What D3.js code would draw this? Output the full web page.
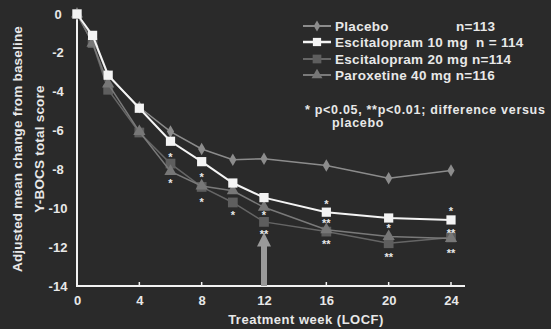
<!DOCTYPE html>
<html>
<head>
<meta charset="utf-8">
<script src="https://cdn.jsdelivr.net/npm/d3@7"></script>
<style>
  body { margin: 0; background: #2a2a2a; }
  text { font-family: "Liberation Sans", Arial, sans-serif; font-weight: bold; fill: #e8e8e8; }
</style>
</head>
<body>
<script>
// data
var weeks = [0, 1, 2, 4, 6, 8, 10, 12, 16, 20, 24];
var placebo = [0, -1.2, -3.2, -4.8, -6.05, -6.95, -7.5, -7.45, -7.8, -8.45, -8.05];
var esc10 = [0, -1.1, -3.15, -4.85, -6.55, -7.6, -8.7, -9.45, -10.2, -10.5, -10.6];
var esc20 = [0, -1.5, -3.9, -6.1, -7.7, -8.9, -9.7, -10.7, -11.2, -11.8, -11.5];
var parox = [0, -1.5, -3.6, -6.05, -8.1, -8.85, -9.1, -9.95, -11.1, -11.45, -11.55];
var xTicks = [0, 4, 8, 12, 16, 20, 24];
var yTicks = [0, -2, -4, -6, -8, -10, -12, -14];
var seriesNames = ["Placebo", "Escitalopram 10 mg", "Escitalopram 20 mg", "Paroxetine 40 mg"];
var seriesN = ["n=113", "n = 114", "n=114", "n=116"];
// significance marks: week, level (score units), label
var sigWeeks = [6, 6, 8, 8, 10, 12, 12, 16, 16, 16, 20, 20, 24, 24, 24];
var sigLevels = [-7.27, -8.6, -8.3, -9.55, -10.25, -10.25, -11.2, -9.7, -10.65, -11.75, -10.9, -12.4, -10.05, -11.15, -12.2];
var sigLabels = ["*", "*", "*", "*", "*", "*", "**", "*", "**", "**", "*", "**", "*", "**", "**"];
var arrowWeek = 12, arrowTip = -11.25;

var W = 551, H = 329;
var svg = d3.select("body").append("svg").attr("width", W).attr("height", H);
svg.append("rect").attr("width", W).attr("height", H).attr("fill", "#2a2a2a");

var x = d3.scaleLinear().domain([0, 24]).range([77, 451]);
var y = d3.scaleLinear().domain([0, -14]).range([14, 286]);

// axes
var xAxis = d3.axisBottom(x).tickValues(xTicks).tickSize(0).tickPadding(10);
var gx = svg.append("g").attr("transform", "translate(0,286)").call(xAxis);
gx.select(".domain").remove();
gx.selectAll("text").attr("font-size", 13).attr("fill", "#e8e8e8")
  .attr("font-family", "Liberation Sans, Arial, sans-serif").attr("font-weight", "bold");
svg.append("line").attr("x1", 76).attr("x2", 465).attr("y1", 286).attr("y2", 286)
  .attr("stroke", "#f2f2f2").attr("stroke-width", 2);
svg.selectAll(".xt").data(xTicks.slice(1)).enter().append("line")
  .attr("x1", function(d) { return x(d); }).attr("x2", function(d) { return x(d); })
  .attr("y1", 286).attr("y2", 282).attr("stroke", "#f2f2f2").attr("stroke-width", 1.5);

svg.append("line").attr("x1", 77).attr("x2", 77).attr("y1", 14).attr("y2", 287)
  .attr("stroke", "#f2f2f2").attr("stroke-width", 2);
svg.selectAll(".yl").data(yTicks).enter().append("text")
  .attr("x", 58).attr("y", function(d) { return y(d) + 4.5; })
  .attr("text-anchor", "middle").attr("font-size", 13)
  .text(function(d) { return d; });

// axis titles
svg.append("text").attr("x", 306).attr("y", 324).attr("text-anchor", "middle")
  .attr("font-size", 13).attr("letter-spacing", 0.5).text("Treatment week (LOCF)");
svg.append("text").attr("transform", "translate(22,149) rotate(-90)")
  .attr("text-anchor", "middle").attr("font-size", 13.5).attr("letter-spacing", 0.2)
  .text("Adjusted mean change from baseline");
svg.append("text").attr("transform", "translate(44,149) rotate(-90)")
  .attr("text-anchor", "middle").attr("font-size", 13.5).attr("letter-spacing", 0.2)
  .text("Y-BOCS total score");

// arrow at week 12
var ax = x(arrowWeek), at = y(arrowTip);
svg.append("rect").attr("x", ax - 3).attr("y", at + 12).attr("width", 6).attr("height", 286 - at - 12)
  .attr("fill", "#9a9a9a");
svg.append("path").attr("d", "M" + (ax - 7) + "," + (at + 14) + "L" + ax + "," + at + "L" + (ax + 7) + "," + (at + 14) + "Z")
  .attr("fill", "#9a9a9a");

var line = d3.line().x(function(d, i) { return x(weeks[i]); }).y(function(d) { return y(d); });

var series = [
  { v: placebo, color: "#8c8c8c", line: "#8c8c8c", w: 1.5, shape: d3.symbolDiamond, size: 45 },
  { v: esc20, color: "#5e5e5e", line: "#666666", w: 1.5, shape: d3.symbolSquare, size: 95 },
  { v: parox, color: "#777777", line: "#7a7a7a", w: 1.5, shape: d3.symbolTriangle, size: 65 },
  { v: esc10, color: "#f4f4f4", line: "#f4f4f4", w: 2, shape: d3.symbolSquare, size: 85 }
];

series.forEach(function(s) {
  svg.append("path").datum(s.v).attr("d", line).attr("fill", "none")
    .attr("stroke", s.line).attr("stroke-width", s.w);
  svg.selectAll(null).data(s.v).enter().append("path")
    .attr("transform", function(d, i) { return "translate(" + x(weeks[i]) + "," + y(d) + ")"; })
    .attr("d", d3.symbol().type(s.shape).size(s.size))
    .attr("fill", s.color);
});

// significance marks
svg.selectAll(".sig").data(sigLabels).enter().append("text")
  .attr("x", function(d, i) { return x(sigWeeks[i]); })
  .attr("y", function(d, i) { return y(sigLevels[i]) + 6; })
  .attr("text-anchor", "middle").attr("font-size", 11).attr("fill", "#dcdcdc")
  .text(function(d) { return d; });

// legend
var legRows = [26, 42, 59, 75];
var legSeries = [series[0], series[3], series[1], series[2]];
legSeries.forEach(function(s, i) {
  var ly = legRows[i];
  svg.append("line").attr("x1", 303).attr("x2", 331).attr("y1", ly).attr("y2", ly)
    .attr("stroke", s.line).attr("stroke-width", s.w + 0.5);
  svg.append("path").attr("transform", "translate(317," + ly + ")")
    .attr("d", d3.symbol().type(s.shape).size(s.size * 0.8)).attr("fill", s.color);
});
svg.append("text").attr("x", 335).attr("y", legRows[0] + 5).attr("font-size", 13.5).attr("letter-spacing", 0.3).text(seriesNames[0]);
svg.append("text").attr("x", 456).attr("y", legRows[0] + 5).attr("font-size", 13.5).attr("letter-spacing", 0.3).text(seriesN[0]);
for (var i = 1; i < 4; i++) {
  svg.append("text").attr("x", 335).attr("y", legRows[i] + 5).attr("font-size", 13.5).attr("letter-spacing", 0.3)
    .attr("xml:space", "preserve")
    .text(seriesNames[i] + (i === 1 ? "  " : " ") + seriesN[i]);
}
svg.append("text").attr("x", 305).attr("y", 114).attr("font-size", 12.5).attr("letter-spacing", 0.7)
  .text("* p<0.05, **p<0.01; difference versus");
svg.append("text").attr("x", 332).attr("y", 127).attr("font-size", 12.5).attr("letter-spacing", 0.7).text("placebo");
</script>
</body>
</html>
